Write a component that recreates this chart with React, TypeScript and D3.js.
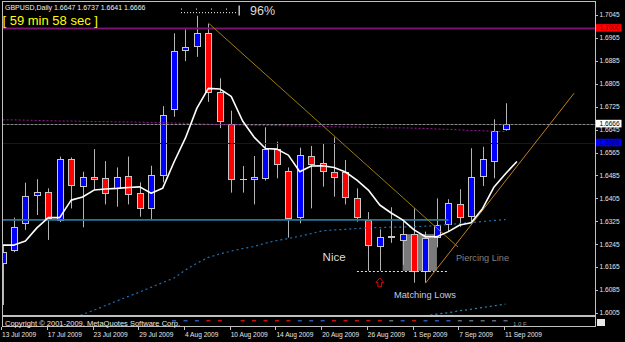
import React from "react";
import * as d3 from "d3";

// ---------- data ----------
const symbol = "GBPUSD";
const period = "Daily";
const barDates = [
  "2009-07-13","2009-07-14","2009-07-15","2009-07-16","2009-07-17",
  "2009-07-20","2009-07-21","2009-07-22","2009-07-23","2009-07-24",
  "2009-07-27","2009-07-28","2009-07-29","2009-07-30","2009-07-31",
  "2009-08-03","2009-08-04","2009-08-05","2009-08-06","2009-08-07",
  "2009-08-10","2009-08-11","2009-08-12","2009-08-13","2009-08-14",
  "2009-08-17","2009-08-18","2009-08-19","2009-08-20","2009-08-21",
  "2009-08-24","2009-08-25","2009-08-26","2009-08-27","2009-08-28",
  "2009-08-31","2009-09-01","2009-09-02","2009-09-03","2009-09-04",
  "2009-09-07","2009-09-08","2009-09-09","2009-09-10","2009-09-11",
];
const opens = [
  1.6178,1.6225,1.6318,1.6417,1.6428,1.6330,1.6541,1.6449,1.6479,1.6475,
  1.6442,1.6483,1.6423,1.6370,1.6487,1.6716,1.6923,1.6937,1.6981,1.6777,
  1.6664,1.6473,1.6472,1.6475,1.6576,1.6502,1.6341,1.6553,1.6527,1.6498,
  1.6497,1.6405,1.6330,1.6240,1.6275,1.6260,1.6280,1.6153,1.6269,1.6316,
  1.6384,1.6344,1.6483,1.6535,1.6647,
];
const highs = [
  1.6242,1.6338,1.6460,1.6472,1.6440,1.6551,1.6548,1.6498,1.6577,1.6535,
  1.6513,1.6551,1.6461,1.6519,1.6727,1.6981,1.6995,1.7042,1.7014,1.6824,
  1.6711,1.6518,1.6553,1.6653,1.6603,1.6513,1.6582,1.6588,1.6595,1.6618,
  1.6539,1.6440,1.6357,1.6297,1.6374,1.6324,1.6370,1.6289,1.6405,1.6402,
  1.6437,1.6580,1.6585,1.6681,1.6737,
];
const lows = [
  1.6033,1.6217,1.6295,1.6347,1.6260,1.6322,1.6370,1.6304,1.6434,1.6384,
  1.6376,1.6384,1.6341,1.6333,1.6461,1.6690,1.6884,1.6899,1.6742,1.6650,
  1.6425,1.6425,1.6384,1.6467,1.6475,1.6268,1.6318,1.6370,1.6446,1.6411,
  1.6384,1.6324,1.6152,1.6152,1.6250,1.6173,1.6111,1.6111,1.6234,1.6289,
  1.6306,1.6324,1.6448,1.6475,1.6641,
];
const closes = [
  1.6219,1.6304,1.6414,1.6428,1.6338,1.6541,1.6452,1.6479,1.6472,1.6423,
  1.6481,1.6419,1.6372,1.6487,1.6696,1.6920,1.6934,1.6981,1.6777,1.6675,
  1.6473,1.6473,1.6479,1.6577,1.6525,1.6338,1.6556,1.6524,1.6501,1.6481,
  1.6411,1.6340,1.6242,1.6271,1.6269,1.6280,1.6153,1.6267,1.6312,1.6390,
  1.6339,1.6481,1.6541,1.6641,1.6666,
];
// fast moving average (white), one value past the last bar
const fastMA = [
  1.6242,1.6242,1.6256,1.6302,1.6338,1.6338,1.6399,1.6410,1.6434,1.6438,
  1.6440,1.6443,1.6445,1.6423,1.6440,1.6532,1.6616,1.6720,1.6789,1.6787,
  1.6761,1.6675,1.6619,1.6579,1.6577,1.6556,1.6498,1.6518,1.6519,1.6513,
  1.6497,1.6469,1.6434,1.6382,1.6354,1.6330,1.6295,1.6271,1.6271,1.6289,
  1.6312,1.6320,1.6370,1.6445,1.6491,1.6534,
];
// slow moving average (purple dotted)
const slowMA = [
  1.6679,1.6679,1.6678,1.6677,1.6676,1.6675,1.6675,1.6674,1.6673,1.6673,
  1.6672,1.6672,1.6671,1.6670,1.6669,1.6668,1.6667,1.6665,1.6664,1.6663,
  1.6662,1.6661,1.6660,1.6660,1.6659,1.6658,1.6658,1.6657,1.6656,1.6655,
  1.6654,1.6654,1.6653,1.6652,1.6651,1.6651,1.6650,1.6649,1.6647,1.6646,
  1.6644,1.6642,1.6641,1.6639,1.6638,
];
// medium moving average (blue dotted)
const midMA: (number | null)[] = [
  null,null,null,null,null,null,1.5984,1.6000,1.6015,1.6031,
  1.6047,1.6063,1.6078,1.6095,1.6111,1.6127,1.6155,1.6179,1.6199,1.6211,
  1.6221,1.6230,1.6237,1.6249,1.6258,1.6265,1.6273,1.6282,1.6292,1.6295,
  1.6297,1.6300,1.6302,1.6303,1.6305,1.6305,1.6306,1.6308,1.6310,1.6314,
  1.6317,1.6321,1.6324,1.6328,1.6331,
];
// long moving average (teal dotted, mostly below the window)
const longMA: (number | null)[] = [
  null,null,null,null,null,null,null,null,null,null,
  null,null,null,null,null,null,null,null,null,null,
  null,null,null,null,null,null,null,null,null,null,
  null,null,null,null,null,null,null,1.5995,1.6001,1.6006,
  1.6013,1.6018,1.6024,1.6030,1.6036,
];
// indicator strip in the sub-window: b = blue, r = red, g = grey, "" = none
const stripSignals = [
  "","","","","","","","","","","","","","","",
  "b","b","b","r","r","","r","r","r","r",
  "r","b","b","b","r","r","r","r","r","g",
  "b","r","b","b","b","g","g","g","g","g",
];
const priceTicks = [1.7045,1.6965,1.6885,1.6805,1.6725,1.6645,1.6565,1.6485,1.6405,1.6325,1.6245,1.6165,1.6085,1.6005];
const levelPrices = [1.7000, 1.6666, 1.6600];
const supportPrice = 1.6330;   // teal horizontal segment
const supportRange = [-1, 39];
const lowsLinePrice = 1.6152;  // white dashed line
const lowsLineRange = [31, 39];
const boxRange = [35, 38];
const boxPrices = [1.6280, 1.6152];
const trendA = [[18, 1.7017], [39.85, 1.6235]];
const trendB = [[37, 1.6109], [50, 1.6772]];
const arrowBar = 33;
const arrowPrice = 1.6127;
const labelTexts = ["Nice", "Piercing Line", "Matching Lows"];
const labelBars = [28, 39.67, 34.24];
const labelPrices = [1.6185, 1.6188, 1.6058];
const timerText = "[ 59 min 58 sec ]";
const progressText = "96%";
const copyrightText = "Copyright © 2001-2009, MetaQuotes Software Corp.";

// ---------- style ----------
const FONT = "'Liberation Sans', Arial, sans-serif";
const W = 625, H = 342;
const L = 2.5, R = 595.5, T = 1.5, B = 315.5;

export default function App() {
  const x = d3.scaleLinear().domain([0, 44]).range([2.6, 505.5]);
  const y = d3.scaleLinear().domain([1.6005, 1.7045]).range([313, 15]);
  const px = (v: number) => Math.round(v) + 0.5;
  const fmt = d3.format(".4f");
  const dateFmt = d3.timeFormat("%-d %b %Y");
  const parse = d3.timeParse("%Y-%m-%d");

  const mkLine = (vals: (number | null)[]) =>
    d3
      .line<number | null>()
      .defined((d) => d != null)
      .x((_, i) => x(i))
      .y((d) => y(d as number))(vals) || "";

  const header = `${symbol},${period}  ${fmt(opens[44])} ${fmt(highs[44])} ${fmt(lows[44])} ${fmt(closes[44])}`;

  const levelStyles = [
    { stroke: "#7a1470", width: 2, dash: "none", tag: "#ff0000", tagText: "#6a0000" },
    { stroke: "#8c8c8c", width: 1, dash: "3,1", tag: "#ffffff", tagText: "#000000" },
    { stroke: "#0000d0", width: 1, dash: "none", tag: "#0000ff", tagText: "#000050" },
  ];
  const labelStyles = [
    { size: 11, color: "#dcdcdc", len: 23 },
    { size: 9.5, color: "#808080", len: 53 },
    { size: 9.5, color: "#c0cce0", len: 62 },
  ];
  const stripColor: Record<string, string> = { b: "#2f56b0", r: "#c81010", g: "#5f6a75" };

  // progress bar decoration
  const dots: number[] = d3.range(181, 237, 3);
  const bigDots: number[] = d3.range(181, 237, 15);

  const ax = x(arrowBar);
  const ay = y(arrowPrice);
  const arrowPath = `M${ax},${ay} L${ax + 4},${ay + 4.5} L${ax + 1.8},${ay + 4.5} L${ax + 1.8},${ay + 8.7} L${ax - 1.8},${ay + 8.7} L${ax - 1.8},${ay + 4.5} L${ax - 4},${ay + 4.5} Z`;

  return (
    <div style={{ position: "fixed", left: 0, top: 0 }}>
      <svg width={W} height={H} style={{ display: "block", background: "#000" }} fontFamily={FONT}>
        <defs>
          <clipPath id="plot">
            <rect x={L + 0.5} y={T + 0.5} width={R - L - 1} height={B - T - 1} />
          </clipPath>
        </defs>
        <rect x={0} y={0} width={W} height={H} fill="#000" />

        <g clipPath="url(#plot)">
          {/* pattern box */}
          <rect
            x={x(boxRange[0])}
            y={y(boxPrices[0])}
            width={x(boxRange[1]) - x(boxRange[0])}
            height={y(boxPrices[1]) - y(boxPrices[0])}
            fill="#7a7a7a"
          />

          {/* candles */}
          {opens.map((o, i) => {
            const c = closes[i];
            const cx = px(x(i));
            const yt = px(y(Math.max(o, c)));
            const yb = px(y(Math.min(o, c)));
            const up = c > o;
            return (
              <g key={i}>
                <line x1={cx} x2={cx} y1={y(highs[i])} y2={y(lows[i])} stroke="#b4b4b4" strokeWidth={1} />
                {o === c ? (
                  <line x1={cx - 3.5} x2={cx + 3.5} y1={yt} y2={yt} stroke="#d0d0d0" strokeWidth={1} />
                ) : (
                  <rect
                    x={cx - 3}
                    y={yt}
                    width={6}
                    height={Math.max(yb - yt, 1)}
                    fill={up ? "#0000ff" : "#ff0000"}
                    stroke="#c8c8c8"
                    strokeWidth={1}
                  />
                )}
              </g>
            );
          })}

          {/* horizontal levels */}
          {levelPrices.map((p, k) => (
            <line
              key={k}
              x1={L}
              x2={R}
              y1={px(y(p))}
              y2={px(y(p))}
              stroke={levelStyles[k].stroke}
              strokeWidth={levelStyles[k].width}
              strokeDasharray={levelStyles[k].dash}
            />
          ))}
          <line
            x1={x(supportRange[0])}
            x2={x(supportRange[1])}
            y1={y(supportPrice)}
            y2={y(supportPrice)}
            stroke="#23789c"
            strokeWidth={1.6}
          />
          <line
            x1={x(lowsLineRange[0])}
            x2={x(lowsLineRange[1])}
            y1={px(y(lowsLinePrice))}
            y2={px(y(lowsLinePrice))}
            stroke="#e0e0e0"
            strokeWidth={1}
            strokeDasharray="2,2"
          />

          {/* moving averages */}
          <path d={mkLine(slowMA)} fill="none" stroke="#9a1a9a" strokeWidth={1} strokeDasharray="2,2" />
          <path d={mkLine(midMA)} fill="none" stroke="#2070b8" strokeWidth={1.2} strokeDasharray="2,3" />
          <path d={mkLine(longMA)} fill="none" stroke="#2a8ab0" strokeWidth={1.2} strokeDasharray="2,3" />

          {/* trend lines */}
          <line x1={x(trendA[0][0])} y1={y(trendA[0][1])} x2={x(trendA[1][0])} y2={y(trendA[1][1])} stroke="#9c7c14" strokeWidth={1} />
          <line x1={x(trendB[0][0])} y1={y(trendB[0][1])} x2={x(trendB[1][0])} y2={y(trendB[1][1])} stroke="#c08020" strokeWidth={1} />

          {/* fast MA */}
          <path d={mkLine(fastMA)} fill="none" stroke="#ffffff" strokeWidth={1.6} strokeLinejoin="round" />

          {/* annotations */}
          {labelTexts.map((t, k) => (
            <text
              key={k}
              x={x(labelBars[k])}
              y={y(labelPrices[k])}
              fontSize={labelStyles[k].size}
              fill={labelStyles[k].color}
              textLength={labelStyles[k].len}
              lengthAdjust="spacingAndGlyphs"
            >
              {t}
            </text>
          ))}
          <path d={arrowPath} fill="none" stroke="#e00000" strokeWidth={1} />
        </g>

        {/* window borders */}
        <rect x={L} y={T} width={R - L} height={B - T} fill="none" stroke="#c0c0c0" strokeWidth={1} />
        <rect x={L} y={B + 1} width={R - L} height={10} fill="none" stroke="#c0c0c0" strokeWidth={1} />

        {/* sub-window indicator strip */}
        {stripSignals.map((s, i) =>
          s ? <rect key={i} x={x(i) - 2} y={320} width={4} height={1.5} fill={stripColor[s]} /> : null
        )}
        <text x={5} y={326} fontSize={7} fill="#e8e8e8" textLength={175} lengthAdjust="spacingAndGlyphs">
          {copyrightText}
        </text>
        <text x={513} y={326} fontSize={6} fill="#9a9a9a">1.0 F</text>
        <rect x={597} y={319} width={8} height={7} fill="#e8e8e8" />

        {/* price axis */}
        {priceTicks.map((p) => (
          <g key={p}>
            <line x1={R} x2={R + 2.5} y1={px(y(p))} y2={px(y(p))} stroke="#c0c0c0" />
            <text x={599.5} y={y(p)} dy="0.35em" fontSize={6.6} fill="#e6e6e6">
              {fmt(p)}
            </text>
          </g>
        ))}
        {levelPrices.map((p, k) => (
          <g key={k}>
            <rect x={596} y={y(p) - 3.8} width={25.5} height={7.6} fill={levelStyles[k].tag} />
            <text x={599.5} y={y(p)} dy="0.35em" fontSize={6.6} fill={levelStyles[k].tagText}>
              {fmt(p)}
            </text>
          </g>
        ))}

        {/* date axis */}
        {barDates.map((d, i) =>
          i % 4 === 0 ? (
            <g key={d}>
              <line x1={px(x(i) - 1.5)} x2={px(x(i) - 1.5)} y1={327} y2={330} stroke="#c0c0c0" />
              <text x={x(i) - 0.5} y={336.5} fontSize={6.6} fill="#e6e6e6">
                {dateFmt(parse(d) as Date)}
              </text>
            </g>
          ) : null
        )}

        {/* header */}
        <text x={5} y={10} fontSize={7} fill="#f0f0f0">{header}</text>
        <text x={2.5} y={25} fontSize={13} fill="#ffff00">{timerText}</text>
        {dots.map((d) => (
          <rect key={d} x={d} y={12} width={1} height={1.2} fill="#d0d0d0" />
        ))}
        {bigDots.map((d) => (
          <rect key={"b" + d} x={d} y={8.5} width={1} height={1.2} fill="#d0d0d0" />
        ))}
        <rect x={238.5} y={5.5} width={1.4} height={10} fill="#d0d0d0" />
        <text x={250} y={15} fontSize={12.5} fill="#dcdcdc">{progressText}</text>
      </svg>
    </div>
  );
}
